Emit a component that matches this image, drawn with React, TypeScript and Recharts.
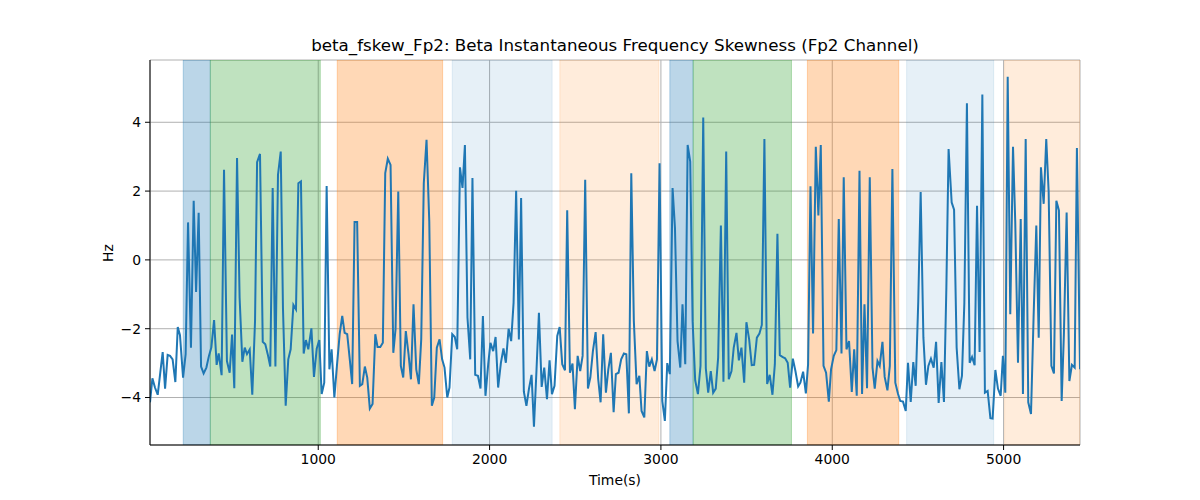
import React from 'react';
import { LineChart, Line, XAxis, YAxis, CartesianGrid, ReferenceArea } from 'recharts';

const times = [
  18, 32, 47, 63, 77, 92, 106, 121, 135, 150, 166, 180, 193, 211, 226, 240, 257, 273, 287, 302,
  316, 331, 347, 362, 376, 392, 407, 419, 436, 450, 467, 483, 497, 510, 526, 541, 557, 571, 584, 600,
  615, 631, 643, 660, 676, 691, 705, 720, 734, 750, 765, 781, 794, 810, 825, 839, 855, 870, 884, 899,
  915, 928, 942, 960, 975, 991, 1006, 1020, 1035, 1049, 1065, 1078, 1094, 1109, 1125, 1140, 1154,
  1169, 1185, 1198, 1212, 1227, 1243, 1257, 1272, 1286, 1301, 1317, 1333, 1346, 1362, 1377, 1391, 1406, 1422,
  1438, 1451, 1467, 1482, 1496, 1511, 1527, 1541, 1556, 1572, 1587, 1601, 1616, 1632, 1648, 1663, 1677, 1692,
  1708, 1723, 1737, 1753, 1766, 1782, 1797, 1811, 1827, 1842, 1856, 1871, 1887, 1900, 1916, 1932, 1947, 1961,
  1976, 1992, 2005, 2021, 2035, 2050, 2066, 2081, 2095, 2111, 2126, 2140, 2155, 2171, 2184, 2200, 2215, 2230,
  2245, 2259, 2274, 2288, 2304, 2319, 2335, 2350, 2364, 2379, 2395, 2409, 2424, 2440, 2453, 2469, 2484, 2498,
  2514, 2529, 2543, 2558, 2574, 2588, 2603, 2619, 2634, 2648, 2663, 2679, 2693, 2708, 2724, 2737, 2753, 2768,
  2784, 2798, 2813, 2827, 2842, 2858, 2874, 2887, 2903, 2918, 2932, 2947, 2963, 2977, 2992, 3008, 3023, 3037,
  3052, 3068, 3082, 3097, 3113, 3126, 3142, 3156, 3171, 3185, 3200, 3216, 3231, 3247, 3262, 3276, 3291, 3305,
  3320, 3334, 3350, 3365, 3381, 3396, 3412, 3425, 3441, 3455, 3470, 3486, 3499, 3515, 3530, 3544, 3560, 3575,
  3589, 3604, 3620, 3635, 3651, 3665, 3680, 3694, 3709, 3725, 3740, 3754, 3770, 3785, 3801, 3814, 3830, 3846,
  3859, 3873, 3888, 3904, 3919, 3933, 3949, 3964, 3980, 3993, 4009, 4024, 4038, 4054, 4067, 4083, 4098, 4114,
  4128, 4143, 4159, 4174, 4188, 4203, 4219, 4235, 4248, 4264, 4277, 4293, 4306, 4322, 4336, 4351,
  4368, 4384, 4397, 4413, 4429, 4442, 4458, 4473, 4487, 4502, 4516, 4532, 4547, 4561, 4576, 4592, 4606, 4621,
  4637, 4652, 4666, 4679, 4697, 4711, 4726, 4742, 4757, 4771, 4786, 4802, 4816, 4831, 4845, 4860, 4876, 4891,
  4907, 4923, 4936, 4952, 4967, 4983, 4996, 5010, 5024, 5039, 5055, 5068, 5084, 5100, 5113, 5129, 5144, 5160,
  5175, 5191, 5205, 5218, 5234, 5249, 5263, 5279, 5294, 5308, 5323, 5339, 5352, 5368, 5384, 5399, 5415, 5428, 5446,
];

const values = [
  -4.14, -3.44, -3.71, -3.92, -3.32, -2.68, -3.74, -2.76, -2.79, -2.89, -3.55, -1.95, -2.19, -3.42, -2.74, 1.09, -2.55, 1.72, -0.93, 1.37,
  -3.10, -3.30, -3.13, -2.79, -2.55, -1.75, -3.05, -2.72, -3.35, 2.62, -2.94, -3.28, -2.17, -3.73, 2.96, -1.10, -2.96, -2.55, -2.74, -2.60,
  -3.92, -1.78, 2.84, 3.08, -2.38, -2.45, -2.74, -3.10, 2.09, -3.10, 2.47, 3.15, -1.39, -4.24, -2.89, -2.60, -1.31, -1.44, 2.23, 2.28,
  -2.72, -2.33, -2.60, -1.99, -3.40, -2.58, -2.33, -3.90, -3.57, 2.15, -3.18, -2.60, -4.00, -3.08, -2.16, -1.63, -2.12,
  -2.16, -2.94, -3.61, 1.10, 1.10, -3.66, -3.61, -3.10, -3.42, -4.32, -4.19, -2.16, -2.53, -2.53, -2.41, 2.52, 2.94, 2.76,
  -2.70, -2.02, 1.99, -3.08, -3.42, -2.07, -2.74, -3.47, -1.29, -3.18, -3.61, -2.31, 2.23, 3.49, 1.12, -4.24, -4.00, -2.55,
  -2.31, -2.89, -3.13, -4.00, -3.71, -2.16, -2.24, -2.60, 2.69, 2.09, 3.34, -1.68, -2.89, 2.38, -3.34, -3.37, -3.74, -1.63,
  -3.95, -3.03, -2.41, -2.65, -2.24, -3.71, -2.99, -2.57, -2.99, -2.00, -2.36, -1.25, 2.01, -2.31, 1.80, -3.83, -4.24, -3.74,
  -3.34, -4.85, -3.18, -1.54, -3.69, -3.13, -4.05, -2.92, -3.90, -3.66, -2.21, -1.95, -3.03, -3.21, 1.44, -3.28, -3.01, -4.34,
  -2.79, -3.23, -2.79, 2.33, -3.74, -3.42, -2.65, -2.10, -3.47, -4.14, -2.16, -3.86, -3.18, -2.70, -4.43, -3.32, -3.28, -2.89,
  -2.72, -2.74, -4.46, 2.52, -1.78, -3.61, -3.37, -4.39, -4.58, -2.65, -3.10, -2.89, -3.23, -2.89, 2.81, -4.10, -4.68, -3.00,
  -3.32, 2.09, 0.93, -2.36, -3.13, -1.29, -3.03, 3.34, 2.86, -1.78, -3.50, -3.90, -3.08, 4.14, -3.15, -3.86, -3.23, -3.86,
  -3.74, -2.84, 1.00, -3.54, 3.15, -3.47, -3.23, -2.55, -2.12, -2.92, -2.55, -3.57, -1.81, -2.31, -3.06, -3.05, -2.26, -2.14,
  -1.89, 3.51, -3.61, -3.34, -3.92, -3.03, 0.76, -2.77, -2.82, -2.86, -2.99, -3.71, -2.87, -3.23, -3.68, -3.57, -3.25, -3.88,
  -3.03, 2.14, -2.14, 3.29, 1.29, 3.34, -3.08, -3.28, -4.12, -3.18, -2.79, -2.62, 1.19, -2.72, 2.40, -2.60, -2.36, -3.84,
  -2.60, -3.95, 2.59, -3.90, -1.29, -3.73, 2.40, -3.13, -3.74, -2.94, -3.08, -2.38, -3.40, -3.79, -3.08, 2.64,
  -3.57, -3.90, -4.10, -4.12, -4.39, -2.99, -4.13, -2.97, -3.66, -1.20, 1.97, -2.26, -3.63, -3.08, -2.87, -3.13, -2.38, -4.16,
  -2.97, -4.13, -0.81, 3.22, 1.67, 1.46, -2.55, -3.76, -3.37, -1.25, 4.55, -2.99, -2.82, -3.06, 1.57, -2.68, 4.81, -3.86,
  -3.81, -4.60, -4.61, -3.20, -3.74, -3.95, -2.79, -3.86, 5.32, -1.58, 3.29, 1.12, -2.99, 1.19, -3.90, 3.51, -4.14, -4.48,
  -1.68, 1.00, -2.26, 2.69, 1.63, 3.51, 1.99, -3.08, -3.30, 1.72, 1.44, -4.10, -2.16, 1.38, -3.52, -3.05, -3.13, 3.25, -3.18,
];

const bandStarts = [212, 370, 1111, 1782, 2410, 3052, 3188, 3855, 4434, 5006];
const bandEnds = [370, 1012, 1726, 2365, 2988, 3188, 3762, 4388, 4942, 5446];
const bandColors = ['#1f77b4', '#2ca02c', '#ff7f0e', '#1f77b4', '#ff7f0e', '#1f77b4', '#2ca02c', '#ff7f0e', '#1f77b4', '#ff7f0e'];
const bandOpacities = [0.3, 0.3, 0.3, 0.11, 0.15, 0.3, 0.3, 0.3, 0.11, 0.15];

const xTicks = [1000, 2000, 3000, 4000, 5000];
const yTicks = [-4, -2, 0, 2, 4];
const xDomain = [18, 5446];
const yDomain = [-5.38, 5.81];

const data = times.map((t, i) => ({ t, v: values[i] }));

const fmt = (v: number) => (v < 0 ? '\u2212' + Math.abs(v) : String(v));

const FONT = 'DejaVu Sans, sans-serif';
const tickStyle = { fill: '#000', fontSize: 13.9, fontFamily: FONT };

export default function App() {
  return (
    <div style={{ position: 'absolute', left: 0, top: 0, width: 1200, height: 500, background: '#fff', fontFamily: FONT }}>
      <LineChart width={1200} height={500} data={data} margin={{ top: 60, right: 120, bottom: 25, left: 90 }}>
        <CartesianGrid stroke="#b0b0b0" strokeWidth={1} />
        <XAxis
          dataKey="t"
          type="number"
          domain={xDomain}
          ticks={xTicks}
          allowDataOverflow
          height={30}
          tickSize={5}
          tickMargin={4}
          tick={tickStyle}
          tickLine={{ stroke: '#000' }}
          axisLine={{ stroke: '#000' }}
        />
        <XAxis
          xAxisId="top"
          orientation="top"
          dataKey="t"
          type="number"
          domain={xDomain}
          allowDataOverflow
          height={0}
          tick={false}
          tickLine={false}
          axisLine={{ stroke: '#000' }}
        />
        <YAxis
          type="number"
          domain={yDomain}
          ticks={yTicks}
          allowDataOverflow
          width={60}
          tickSize={5}
          tickMargin={4}
          tick={tickStyle}
          tickFormatter={fmt}
          tickLine={{ stroke: '#000' }}
          axisLine={{ stroke: '#000' }}
        />
        <YAxis
          yAxisId="right"
          orientation="right"
          type="number"
          domain={yDomain}
          allowDataOverflow
          width={0}
          tick={false}
          tickLine={false}
          axisLine={{ stroke: '#000' }}
        />
        {bandStarts.map((s, i) => (
          <ReferenceArea
            key={i}
            x1={s}
            x2={bandEnds[i]}
            fill={bandColors[i]}
            fillOpacity={bandOpacities[i]}
            stroke={bandColors[i]}
            strokeOpacity={bandOpacities[i]}
            ifOverflow="hidden"
          />
        ))}
        <Line
          type="linear"
          dataKey="v"
          stroke="#1f77b4"
          strokeWidth={2}
          dot={false}
          isAnimationActive={false}
        />
      </LineChart>
      <div style={{ position: 'absolute', left: 150, width: 930, top: 35, textAlign: 'center', fontSize: 16.7, color: '#000', lineHeight: '20px' }}>
        beta_fskew_Fp2: Beta Instantaneous Frequency Skewness (Fp2 Channel)
      </div>
      <div style={{ position: 'absolute', left: 150, width: 930, top: 472, textAlign: 'center', fontSize: 13.9, color: '#000', lineHeight: '17px' }}>
        Time(s)
      </div>
      <div style={{ position: 'absolute', left: 108, top: 253, transform: 'translate(-50%, -50%) rotate(-90deg)', fontSize: 13.9, color: '#000', lineHeight: '17px' }}>
        Hz
      </div>
    </div>
  );
}
